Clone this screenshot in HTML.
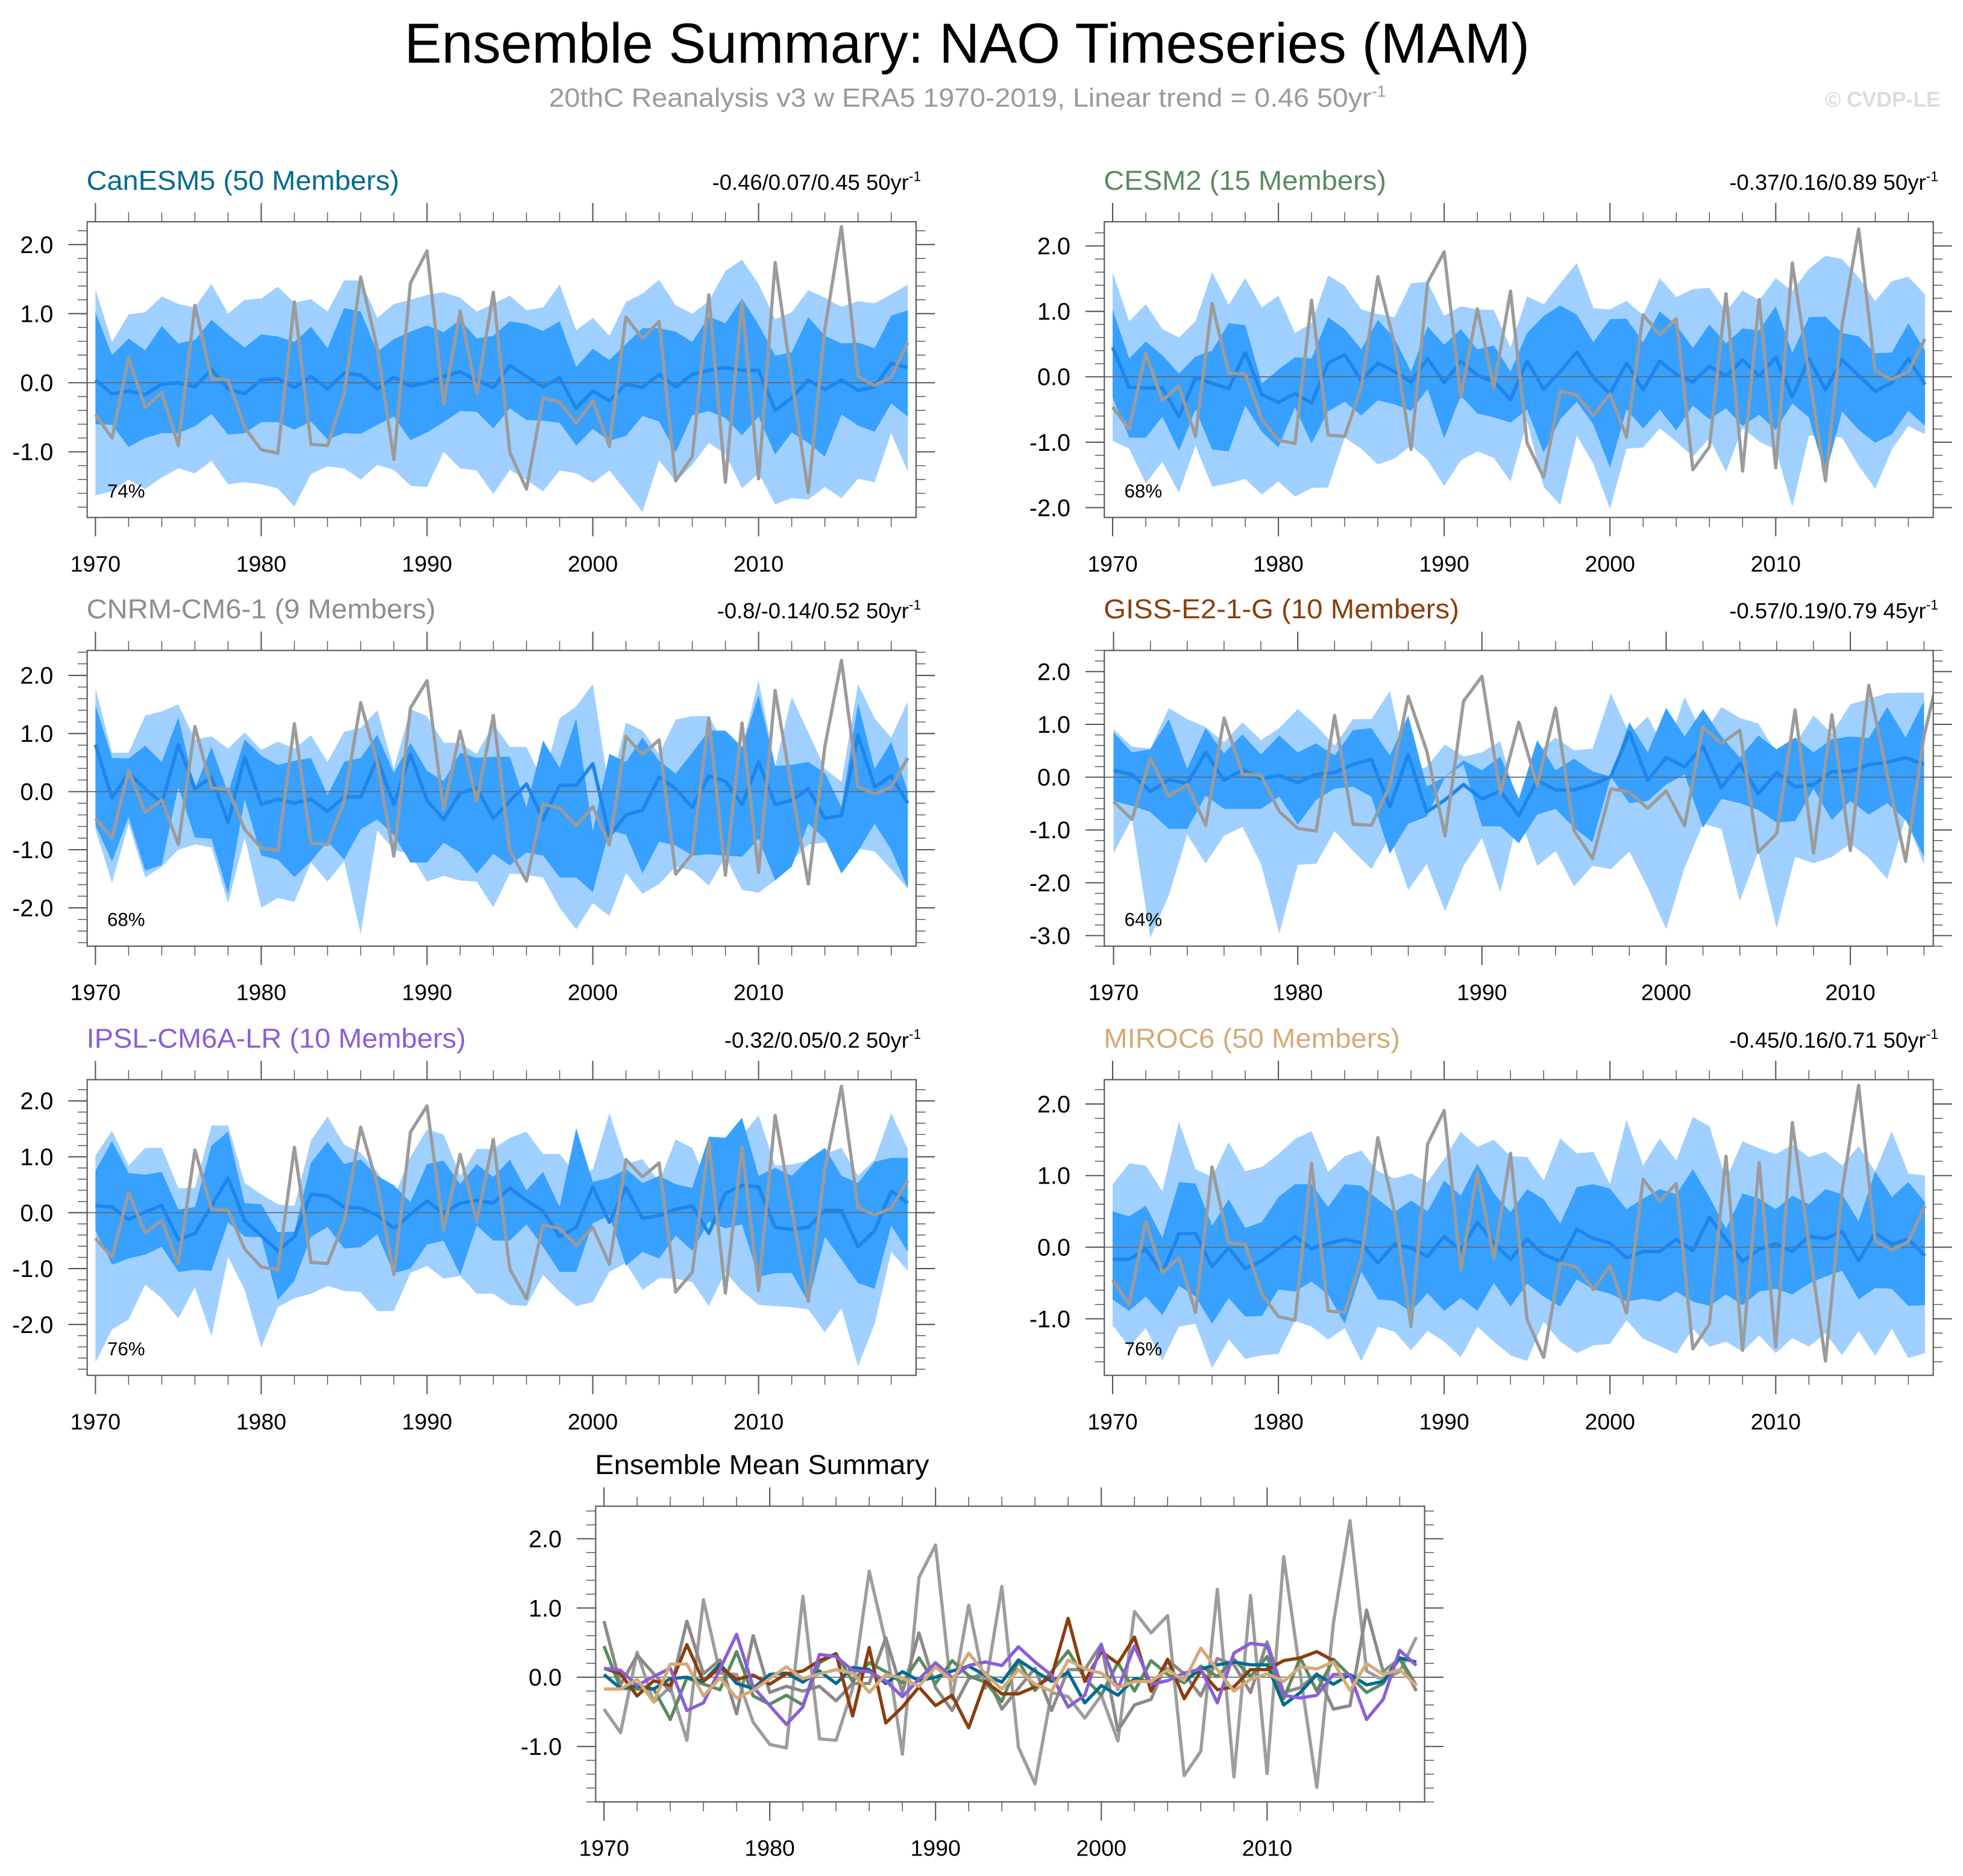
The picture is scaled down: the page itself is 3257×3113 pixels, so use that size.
<!DOCTYPE html>
<html><head><meta charset="utf-8"><title>Ensemble Summary: NAO Timeseries (MAM)</title>
<style>html,body{margin:0;padding:0;background:#fff}svg{display:block;font-family:"Liberation Sans",Arial,sans-serif}</style>
</head><body>
<svg id="fig" xmlns="http://www.w3.org/2000/svg" width="3257" height="3113" viewBox="0 0 1563 1494" preserveAspectRatio="none">
<rect x="0" y="0" width="1563" height="1494" fill="#fff"/>
<text x="770" y="50" text-anchor="middle" font-size="45" textLength="896" lengthAdjust="spacingAndGlyphs" fill="#000">Ensemble Summary: NAO Timeseries (MAM)</text>
<text x="437" y="85" font-size="21" fill="#9a9a9a"><tspan textLength="655" lengthAdjust="spacingAndGlyphs">20thC Reanalysis v3 w ERA5 1970-2019, Linear trend = 0.46 50yr</tspan><tspan dy="-8" font-size="13">-1</tspan></text>
<text x="1545" y="85" text-anchor="end" font-size="17" font-weight="bold" fill="#dcdcdc">© CVDP-LE</text>
</svg>
<script>
const years=[];for(let y=1970;y<=2019;y++)years.push(y);
const obs=[-0.46,-0.80,0.36,-0.36,-0.14,-0.91,1.12,0.06,0.04,-0.65,-0.97,-1.02,1.17,-0.89,-0.91,-0.16,1.53,0.5,-1.11,1.44,1.91,-0.31,1.04,-0.16,1.31,-1.01,-1.54,-0.22,-0.28,-0.59,-0.26,-0.92,0.95,0.64,0.89,-1.42,-1.07,1.27,-1.44,1.18,-1.39,1.74,0.05,-1.59,0.78,2.26,0.09,-0.04,0.08,0.58];

const canMean=[0.04,-0.16,-0.12,-0.17,-0.02,0,-0.06,0.19,-0.09,-0.16,0.04,0.06,-0.07,0.09,-0.09,0.14,0.11,-0.09,0.08,-0.05,0,0.09,0.16,0.03,-0.07,0.25,0.09,-0.06,0.07,-0.37,-0.12,-0.26,-0.02,-0.07,0.12,-0.06,0.12,0.18,0.22,0.18,0.18,-0.40,-0.22,0.04,-0.10,0.04,-0.11,-0.06,0.28,0.22];
const canHi1=[1.02,0.4,0.64,0.47,0.82,0.57,0.62,0.91,0.7,0.51,0.7,0.67,0.59,0.81,0.5,1.08,1.03,0.45,0.63,0.74,0.83,0.73,0.91,0.64,0.68,0.89,0.85,0.75,0.89,0.23,0.49,0.33,0.56,0.79,0.79,0.74,0.59,0.96,0.86,1.22,0.84,0.39,0.44,0.95,0.68,0.57,0.58,0.5,0.97,1.05];
const canLo1=[-0.6,-0.61,-0.93,-0.8,-0.73,-0.73,-0.63,-0.45,-0.75,-0.73,-0.57,-0.57,-0.68,-0.56,-0.82,-0.73,-0.74,-0.61,-0.49,-0.83,-0.72,-0.57,-0.41,-0.42,-0.66,-0.37,-0.54,-0.55,-0.58,-0.91,-0.67,-0.84,-0.77,-0.48,-0.56,-1.01,-0.47,-0.41,-0.51,-0.76,-0.49,-1.04,-0.72,-0.87,-1.07,-0.46,-0.62,-0.71,-0.3,-0.49];
const canHi2=[1.35,0.59,0.99,1.02,1.25,1.14,1.09,1.43,1.0,1.2,1.22,1.39,1.16,1.21,1.03,1.48,1.48,0.94,1.14,1.2,1.27,1.31,1.23,1.03,1.14,1.26,1.05,1.09,1.42,0.76,0.94,0.68,1.17,1.29,1.49,1.12,1.0,1.18,1.62,1.78,1.43,0.92,1.02,1.34,1.23,1.1,1.18,1.15,1.28,1.42];
const canLo2=[-1.63,-1.57,-1.4,-1.54,-1.37,-1.24,-1.31,-1.13,-1.47,-1.44,-1.47,-1.53,-1.79,-1.32,-1.21,-1.24,-1.4,-1.19,-1.26,-1.49,-1.51,-1.0,-1.24,-1.27,-1.61,-1.26,-1.41,-1.57,-1.27,-1.31,-1.45,-1.27,-1.57,-1.87,-1.12,-1.43,-1.19,-0.87,-1.03,-1.53,-1.31,-1.76,-1.67,-1.69,-1.51,-1.67,-1.39,-1.44,-0.73,-1.29];

const cesMean=[0.45,-0.16,-0.17,-0.17,-0.61,-0.01,-0.10,-0.18,0.37,-0.27,-0.39,-0.26,-0.40,0.21,0.34,-0.06,0.21,0.08,-0.08,0.28,-0.09,0.24,0.02,-0.07,-0.35,0.24,-0.19,0.08,0.38,-0.01,-0.26,0.21,-0.20,0.24,0.04,-0.08,0.16,0.01,0.26,0.01,0.30,-0.31,0.28,-0.20,0.26,0.02,-0.22,-0.09,0.28,-0.12];
const cesHi2=[1.6,0.85,1.11,0.73,0.6,0.85,1.6,1.1,1.51,1.06,1.24,0.67,0.82,1.55,1.39,1.03,0.96,0.91,1.43,1.45,0.93,1.08,1.03,1.02,0.45,1.23,1.11,1.43,1.74,1.05,1.03,1.16,0.94,1.51,1.22,1.34,1.36,1.0,1.32,1.17,1.51,1.31,1.65,1.85,1.8,1.52,1.16,1.46,1.53,1.26];
const cesHi1=[1.03,0.28,0.54,0.33,0.05,0.31,0.40,0.82,0.79,-0.1,0.11,0.3,0.28,0.91,0.73,0.42,0.87,0.59,0.08,0.77,0.49,0.73,0.42,0.48,0.08,0.67,0.93,1.09,0.95,0.53,0.88,0.89,0.53,1.0,0.79,0.44,0.8,0.51,0.74,0.71,1.08,0.37,0.91,0.92,0.67,0.62,0.36,0.37,0.82,0.4];
const cesLo1=[-0.32,-0.93,-0.93,-0.61,-1.13,-0.5,-1.11,-1.14,-0.44,-0.84,-1.08,-0.47,-1.02,-0.53,-0.38,-0.59,-0.36,-0.42,-0.52,-0.19,-0.94,-0.29,-0.56,-0.62,-0.70,-0.5,-1.16,-0.65,-0.38,-0.73,-1.39,-0.5,-0.79,-0.5,-0.82,-0.44,-0.65,-0.48,-0.75,-0.58,-0.81,-0.41,-0.62,-1.51,-0.53,-0.81,-1.01,-0.88,-0.52,-0.75];
const cesLo2=[-0.98,-1.1,-1.63,-1.30,-1.77,-1.05,-1.68,-1.63,-1.56,-1.8,-1.6,-1.83,-1.7,-1.69,-0.93,-1.1,-1.34,-1.25,-1.05,-1.27,-1.67,-1.28,-1.14,-1.24,-1.6,-0.68,-1.68,-1.96,-0.9,-1.33,-2.02,-1.1,-1.08,-0.79,-0.99,-1.22,-0.94,-1.45,-0.78,-0.99,-1.11,-1.99,-0.9,-0.9,-0.93,-1.36,-1.71,-1.11,-0.75,-0.88];

const cnrMean=[0.81,-0.11,0.32,0.05,-0.2,0.81,0.05,0.25,-0.53,0.6,-0.22,-0.13,-0.2,-0.13,-0.34,-0.09,-0.09,0.57,-0.22,0.64,-0.15,-0.48,-0.02,0.06,-0.46,-0.16,0.13,-0.48,0.11,0.11,0.48,-0.77,-0.40,-0.32,0.25,0.05,-0.27,0.27,0.18,-0.22,0.51,-0.22,-0.15,0.05,-0.46,-0.41,0.97,0.08,0.27,-0.2];
const cnrHi2=[1.78,0.67,0.67,1.31,1.38,1.5,0.9,0.95,0.74,1.02,0.72,0.86,0.74,0.97,0.51,1.03,1.1,1.4,0.39,1.42,1.3,0.84,0.84,0.65,1.16,0.77,0.77,0.17,1.26,1.47,1.85,-0.01,1.19,1.05,0.65,1.24,1.3,1.3,0.77,0.74,1.92,0.44,1.63,1.02,0.39,0.17,1.85,1.26,0.93,1.56];
const cnrHi1=[1.49,0.58,0.57,0.79,0.51,1.28,0.05,0.77,-0.02,0.9,0.62,0.46,0.53,0.58,-0.06,0.51,0.58,0.98,0.32,0.84,0.36,0.18,0.67,0.58,0.6,0.6,-0.27,0.88,0.41,1.26,-0.68,0.65,0.51,0.93,0.53,0.31,0.67,1.05,1.05,0.77,1.66,0.44,0.46,0.51,0.32,-0.27,1.52,0.39,0.86,0.0];
const cnrLo1=[-0.58,-1.2,-0.44,-1.36,-1.26,0.08,-0.79,-0.81,-1.76,-0.13,-1.1,-1.17,-1.47,-1.2,-0.86,-1.17,-0.65,-0.48,-0.75,-1.22,-1.22,-0.88,-1.05,-1.41,-1.07,-1.27,-1.05,-1.1,-1.48,-1.48,-1.73,-0.67,-0.74,-1.41,-0.86,-0.93,-1.1,-1.08,-1.1,-1.12,-0.81,-1.53,-1.29,-0.55,-0.81,-1.41,-1.03,-0.55,-1.0,-1.66];
const cnrLo2=[-0.65,-1.57,-0.55,-1.48,-1.29,-1.0,-0.91,-0.96,-1.92,-0.79,-2.0,-1.83,-1.9,-1.22,-1.55,-1.2,-2.45,-0.67,-1.0,-1.08,-1.55,-1.45,-1.53,-1.55,-1.99,-1.41,-1.43,-1.48,-2.0,-2.37,-1.92,-2.14,-1.4,-1.76,-1.59,-1.29,-1.36,-1.62,-1.12,-1.69,-1.74,-1.53,-1.2,-0.91,-0.88,-0.81,-0.98,-1.03,-1.34,-1.67];

const gisMean=[0.13,0.05,-0.27,-0.05,-0.12,0.47,-0.06,0.14,-0.03,0.03,-0.1,0.05,0.09,0.24,0.34,-0.56,0.43,-0.66,-0.43,-0.14,-0.41,-0.26,-0.73,-0.06,-0.24,-0.24,-0.14,0.01,0.85,-0.06,0.37,0.2,0.58,-0.2,0.26,-0.31,0.09,-0.18,-0.14,0.11,0.11,0.24,0.28,0.37,0.24];
const gisHi2=[0.91,0.58,0.54,1.31,1.1,0.95,0.66,1.04,0.7,0.93,1.29,0.98,0.6,1.1,1.1,1.63,0.05,0.2,0.62,0.39,0.47,0.68,-0.6,0.47,0.75,0.51,0.54,1.59,0.81,1.15,0.47,1.52,0.79,1.33,1.12,1.02,0.45,0.62,1.17,0.83,1.38,1.48,1.59,1.6,1.6];
const gisHi1=[0.85,0.47,0.53,1.1,0.16,0.93,0.45,0.81,0.43,0.79,0.47,0.64,0.41,0.89,0.93,0.41,1.17,-0.18,0.01,0.32,0.13,0.39,-0.41,0.7,0.13,0.35,0.11,0.01,1.04,0.47,1.31,0.77,1.29,0.77,0.37,0.79,0.53,0.75,0.47,0.72,0.77,0.74,1.33,0.75,1.44];
const gisLo1=[-0.45,-0.54,-0.66,-0.98,-0.98,-0.35,-0.6,-0.6,-0.6,-0.37,-0.9,-0.43,-0.22,-0.18,-0.37,-1.45,-0.88,-0.75,0.01,0.24,-0.93,-0.93,-1.25,-0.71,-0.6,-0.96,-1.23,0.01,-0.49,-0.45,-0.14,0.05,-0.96,-0.41,-0.49,-0.62,-0.86,-0.83,-0.22,-0.81,-0.45,-0.71,-0.49,-0.81,-1.51];
const gisLo2=[-1.44,-0.79,-3.04,-2.24,-1.09,-1.63,-1.11,-0.94,-1.64,-2.96,-1.66,-1.64,-1.02,-1.4,-1.74,-1.13,-2.14,-1.64,-2.54,-1.68,-1.15,-2.18,-0.73,-1.68,-1.4,-2.07,-1.68,-1.74,-1.41,-2.09,-2.88,-1.72,-0.88,-0.98,-2.35,-1.41,-2.86,-1.51,-1.63,-1.51,-1.26,-1.53,-1.93,-0.77,-1.66];

const ipsMean=[0.13,0.1,-0.12,0.01,0.13,-0.48,-0.37,0.12,0.62,-0.14,-0.41,-0.68,-0.43,0.33,0.3,0.1,0.08,-0.05,-0.28,-0.03,0.21,-0.01,0.17,0.22,0.17,0.44,0.22,0.03,-0.43,-0.26,0.46,-0.17,0.45,-0.1,-0.05,0.06,0.12,-0.37,0.35,0.49,0.46,-0.26,-0.3,-0.26,0.04,0.04,-0.61,-0.32,0.39,0.17];
const ipsHi2=[1.02,1.47,0.84,1.16,1.16,0.44,0.44,1.56,1.56,0.53,0.33,0.15,0.12,1.29,1.72,1.22,1.07,0.73,0.28,1.0,1.49,1.4,0.66,1.14,1.14,1.34,1.45,1.05,1.05,0.69,0.77,1.78,0.87,0.96,0.55,1.31,1.16,0.46,0.87,1.38,1.74,0.84,0.86,0.93,1.05,1.16,0.66,0.95,1.78,1.14];
const ipsHi1=[0.75,1.28,0.71,0.68,0.73,0.06,0.1,1.2,1.45,0.17,0.15,-0.35,-0.34,0.89,1.27,0.87,0.95,0.66,0.49,0.19,0.87,0.93,0.51,0.87,0.64,0.95,0.4,0.73,0.1,1.51,0.55,0.62,0.78,0.53,0.66,0.51,0.44,1.36,1.34,1.7,0.66,0.8,0.66,0.95,1.16,0.66,0.53,0.91,0.98,0.98];
const ipsLo1=[-0.32,-0.93,-0.82,-0.75,-0.61,-1.06,-1.02,-1.04,-0.17,-0.43,-0.44,-1.56,-1.22,-0.43,-0.26,-0.64,-0.62,-0.39,-1.08,-1.0,-0.57,-0.5,-1.11,-0.23,-0.5,-0.5,-0.21,-0.61,-1.06,-1.06,-0.19,-0.05,-0.95,-0.7,-0.82,-0.41,-0.68,-0.16,-0.28,-0.21,-1.15,-1.08,-1.08,-1.6,-0.43,-0.84,-1.26,-1.36,-0.23,-0.7];
const ipsLo2=[-2.68,-2.09,-1.91,-1.29,-1.53,-1.89,-1.33,-2.21,-0.79,-1.38,-2.41,-1.69,-1.53,-1.45,-1.31,-1.4,-1.42,-1.76,-1.76,-1.08,-0.95,-1.18,-1.13,-1.45,-1.45,-1.65,-1.67,-1.11,-1.42,-1.67,-1.6,-1.06,-0.9,-1.38,-1.17,-1.18,-1.24,-1.67,-1.06,-1.4,-1.65,-1.67,-1.69,-1.73,-2.14,-1.71,-2.75,-1.99,-0.7,-1.04];

const mirMean=[-0.17,-0.17,-0.03,-0.36,0.19,0.19,-0.27,-0.01,-0.3,-0.19,-0.02,0.15,-0.02,0.05,0.11,0.06,-0.22,0.04,-0.01,-0.13,0.15,-0.05,0.35,0.05,-0.17,0.11,-0.1,-0.2,0.25,0.12,0.06,-0.15,-0.06,-0.06,0.11,-0.05,0.42,0.11,-0.2,-0.03,0.05,-0.06,0.15,0.12,0.22,-0.19,0.2,0.04,0.11,-0.12];
const mirHi2=[0.88,1.17,1.14,0.78,1.75,1.09,0.98,1.47,1.06,1.12,1.3,1.51,1.62,1.05,1.27,1.35,1.06,0.96,1.03,0.91,1.23,1.61,1.4,1.5,1.27,1.26,0.93,1.52,1.31,1.33,0.88,1.78,1.14,1.52,1.21,1.82,1.69,0.95,1.48,1.38,1.3,1.43,1.26,1.33,1.14,1.41,1.06,1.62,1.03,1.0];
const mirHi1=[0.5,0.43,0.58,0.13,0.91,0.89,0.3,0.67,0.27,0.35,0.7,0.88,0.88,0.56,0.88,0.86,0.67,0.49,0.65,0.5,0.93,0.72,1.17,0.75,0.49,0.81,0.67,0.33,0.84,0.88,0.82,0.53,0.68,0.81,0.74,1.09,0.7,0.26,0.75,0.68,0.53,0.72,0.6,0.81,0.74,0.36,1.06,0.7,0.91,0.63];
const mirLo1=[-0.73,-0.89,-0.69,-0.95,-0.54,-0.69,-1.07,-0.71,-0.97,-0.96,-0.59,-0.62,-0.48,-0.66,-1.07,-0.34,-0.73,-0.75,-0.9,-0.64,-0.89,-0.71,-0.89,-0.5,-0.83,-0.51,-0.69,-0.83,-0.45,-0.59,-0.65,-0.76,-0.72,-0.76,-0.62,-0.76,-0.82,-0.66,-0.81,-0.62,-0.58,-0.66,-0.51,-0.41,-0.33,-0.73,-0.57,-0.58,-0.82,-0.81];
const mirLo2=[-1.09,-1.39,-1.13,-1.58,-1.11,-1.07,-1.69,-1.29,-1.56,-1.51,-1.49,-1.03,-1.11,-1.29,-1.13,-1.59,-1.11,-1.18,-1.44,-1.17,-1.32,-1.54,-1.11,-1.32,-1.51,-1.59,-1.04,-1.32,-1.48,-1.37,-1.35,-1.02,-1.28,-1.38,-1.49,-1.14,-1.39,-1.32,-1.46,-1.23,-1.48,-1.27,-1.39,-1.2,-1.51,-1.17,-1.52,-1.14,-1.55,-1.48];

const svg=document.getElementById('fig');
const NS="http://www.w3.org/2000/svg";
const PW=660, PH=235.5;
function mk(tag,parent,attrs){const e=document.createElementNS(NS,tag);for(const k in attrs)e.setAttribute(k,attrs[k]);parent.appendChild(e);return e;}
let clipN=0;

function drawPanel(o){
  const g=mk('g',svg,{});
  
  
  const sx=v=>o.x+(v-o.xmin)/(o.xmax-o.xmin)*PW;
  const sy=v=>o.y+(o.ymax-v)/(o.ymax-o.ymin)*PH;
  const cid='clip'+(clipN++);
  const cp=mk('clipPath',g,{id:cid});
  mk('rect',cp,{x:o.x,y:o.y,width:PW,height:PH});
  const pg=mk('g',g,{'clip-path':'url(#'+cid+')'});
  
  
  function band(hi,lo,fill,name){
    const n=hi.length;let pts=[];
    for(let i=0;i<n;i++)pts.push(sx(years[i]).toFixed(2)+','+sy(hi[i]).toFixed(2));
    for(let i=n-1;i>=0;i--)pts.push(sx(years[i]).toFixed(2)+','+sy(lo[i]).toFixed(2));
    const p=mk('polygon',pg,{points:pts.join(' '),fill:fill});
    
    
  }
  function line(arr,color,w,name){
    const pts=arr.map((v,i)=>sx(years[i]).toFixed(2)+','+sy(v).toFixed(2));
    const p=mk('polyline',pg,{points:pts.join(' '),fill:'none',stroke:color,'stroke-width':w,'stroke-linejoin':'round'});
    
    
  }
  if(o.bands){
    band(o.hi2,o.lo2,'#a0d0ff',o.id+'-outer-range-band');
    band(o.hi1,o.lo1,'#38a0ff',o.id+'-inner-range-band');
  }
  const z=mk('line',pg,{x1:o.x,x2:o.x+PW,y1:sy(0),y2:sy(0),stroke:'#666','stroke-width':0.8});
  
  
  if(o.bands){
    line(o.mean,'#1e86ea',2.8,o.id+'-ensemble-mean-line');
    line(obs,'#9b9b9b',2.6,o.id+'-observed-line');
  } else {
    line(obs,'#9d9d9d',2.6,o.id+'-observed-line');
    o.lines.forEach(l=>line(l.data,l.color,2.6,o.id+'-'+l.name+'-line'));
  }
  const fr=mk('rect',g,{x:o.x,y:o.y,width:PW,height:PH,fill:'none',stroke:'#555','stroke-width':1});
  
  
  for(let yr=1970;yr<=o.xmax;yr+=2){
    const major=yr%10===0, L=major?15:7.5, X=sx(yr);
    mk('line',g,{x1:X,x2:X,y1:o.y+PH,y2:o.y+PH+L,stroke:'#555','stroke-width':major?1:0.7});
    mk('line',g,{x1:X,x2:X,y1:o.y,y2:o.y-L,stroke:'#555','stroke-width':major?1:0.7});
    if(major){
      const t=mk('text',g,{x:X,y:o.y+PH+43,'text-anchor':'middle','font-size':18,fill:'#000'});
      t.textContent=String(yr);
      
      
    }
  }
  for(let k=Math.ceil(o.ymin*5);k<=Math.floor(o.ymax*5);k++){
    const v=k/5, major=k%5===0, L=major?15:7.5, Y=sy(v);
    mk('line',g,{x1:o.x,x2:o.x-L,y1:Y,y2:Y,stroke:'#555','stroke-width':major?1:0.7});
    mk('line',g,{x1:o.x+PW,x2:o.x+PW+L,y1:Y,y2:Y,stroke:'#555','stroke-width':major?1:0.7});
    if(major){
      const t=mk('text',g,{x:o.x-27,y:Y+6.7,'text-anchor':'end','font-size':19,fill:'#000'});
      t.textContent=(k/5).toFixed(1);
      
      
    }
  }
  const tt=mk('text',g,{x:o.x-0.5,y:o.y-25.5,'font-size':22,fill:o.color,textLength:o.tw,lengthAdjust:'spacingAndGlyphs'});
  tt.textContent=o.title;
  
  
  if(o.trend){
    const tr=mk('text',g,{x:o.x+PW+4,y:o.y-25.5,'text-anchor':'end','font-size':17.5,fill:'#000'});
    tr.textContent=o.trend;
    const sup=mk('tspan',tr,{dy:-7,'font-size':11});
    sup.textContent='-1';
    
    
    const pc=mk('text',g,{x:o.x+16,y:o.y+PH-16,'font-size':15,fill:'#000'});
    pc.textContent=o.pct;
    
    
  }
}
const LX=69.4, RX=879.3;
drawPanel({id:'canesm5',x:LX,y:176.6,xmin:1969.5,xmax:2019.5,ymin:-1.95,ymax:2.33,bands:true,mean:canMean,hi1:canHi1,lo1:canLo1,hi2:canHi2,lo2:canLo2,title:'CanESM5 (50 Members)',tw:249,color:'#006b8f',trend:'-0.46/0.07/0.45 50yr',pct:'74%'});
drawPanel({id:'cesm2',x:RX,y:176.6,xmin:1969.5,xmax:2019.5,ymin:-2.15,ymax:2.37,bands:true,mean:cesMean,hi1:cesHi1,lo1:cesLo1,hi2:cesHi2,lo2:cesLo2,title:'CESM2 (15 Members)',tw:225,color:'#5b8a62',trend:'-0.37/0.16/0.89 50yr',pct:'68%'});
drawPanel({id:'cnrm-cm6-1',x:LX,y:518,xmin:1969.5,xmax:2019.5,ymin:-2.66,ymax:2.43,bands:true,mean:cnrMean,hi1:cnrHi1,lo1:cnrLo1,hi2:cnrHi2,lo2:cnrLo2,title:'CNRM-CM6-1 (9 Members)',tw:278,color:'#8e8e8e',trend:'-0.8/-0.14/0.52 50yr',pct:'68%'});
drawPanel({id:'giss-e2-1-g',x:RX,y:518,xmin:1969.5,xmax:2014.5,ymin:-3.2,ymax:2.40,bands:true,mean:gisMean,hi1:gisHi1,lo1:gisLo1,hi2:gisHi2,lo2:gisLo2,title:'GISS-E2-1-G (10 Members)',tw:283,color:'#8b3d0d',trend:'-0.57/0.19/0.79 45yr',pct:'64%'});
drawPanel({id:'ipsl-cm6a-lr',x:LX,y:859.8,xmin:1969.5,xmax:2019.5,ymin:-2.91,ymax:2.38,bands:true,mean:ipsMean,hi1:ipsHi1,lo1:ipsLo1,hi2:ipsHi2,lo2:ipsLo2,title:'IPSL-CM6A-LR (10 Members)',tw:302,color:'#8a5ed8',trend:'-0.32/0.05/0.2 50yr',pct:'76%'});
drawPanel({id:'miroc6',x:RX,y:859.8,xmin:1969.5,xmax:2019.5,ymin:-1.79,ymax:2.34,bands:true,mean:mirMean,hi1:mirHi1,lo1:mirLo1,hi2:mirHi2,lo2:mirLo2,title:'MIROC6 (50 Members)',tw:236,color:'#d4aa78',trend:'-0.45/0.16/0.71 50yr',pct:'76%'});
drawPanel({id:'ensemble-mean',x:474.3,y:1199.5,xmin:1969.5,xmax:2019.5,ymin:-1.80,ymax:2.47,bands:false,title:'Ensemble Mean Summary',tw:266,color:'#000',
  lines:[{name:'cnrm-cm6-1',data:cnrMean,color:'#8e8888'},{name:'cesm2',data:cesMean,color:'#5b8a62'},{name:'canesm5',data:canMean,color:'#006b8f'},{name:'giss-e2-1-g',data:gisMean,color:'#8b3d0d'},{name:'ipsl-cm6a-lr',data:ipsMean,color:'#8a5ed8'},{name:'miroc6',data:mirMean,color:'#d4aa78'}]});
</script>
</body></html>
